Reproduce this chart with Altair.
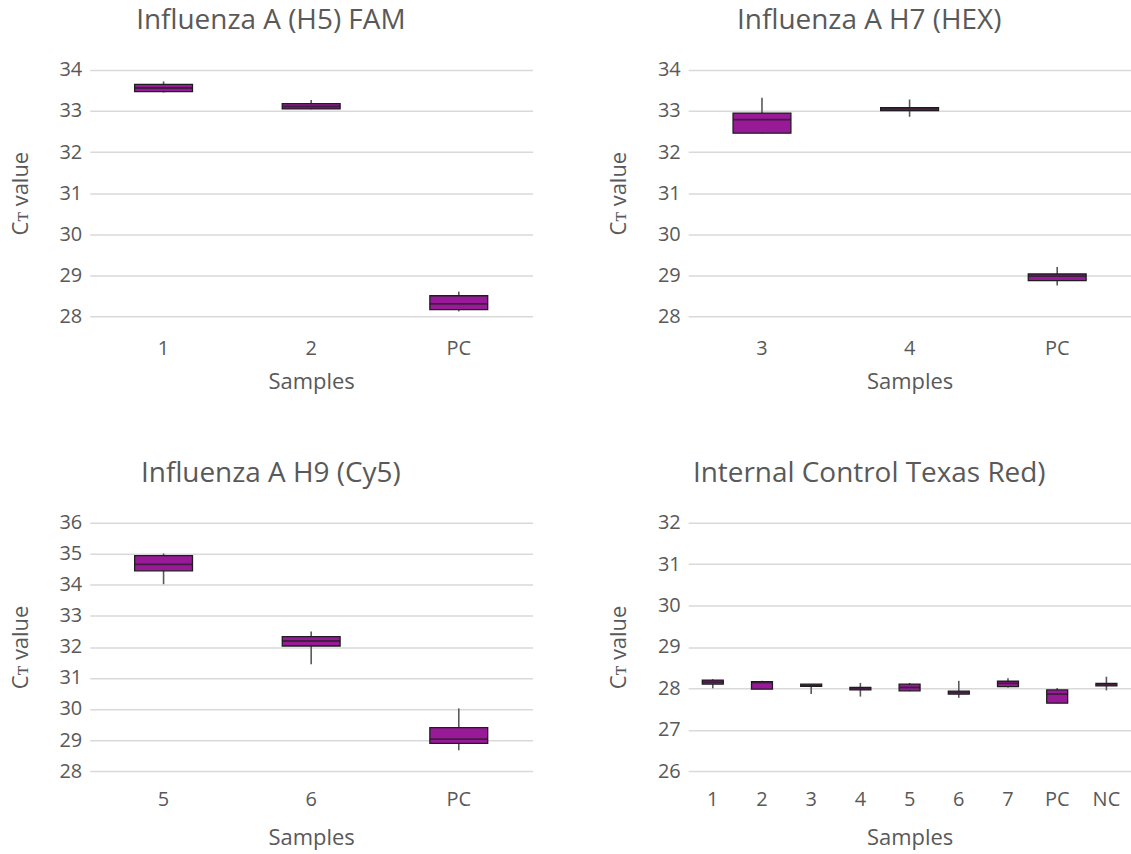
import altair as alt
import pandas as pd

# ---- data ----
p1_samples = ["1", "2", "PC"]
p1_min = [33.45, 33.04, 28.12]
p1_q1 = [33.47, 33.05, 28.16]
p1_med = [33.56, 33.11, 28.30]
p1_q3 = [33.65, 33.18, 28.50]
p1_max = [33.72, 33.27, 28.60]

p2_samples = ["3", "4", "PC"]
p2_min = [32.45, 32.86, 28.75]
p2_q1 = [32.46, 33.01, 28.87]
p2_med = [32.79, 33.05, 28.98]
p2_q3 = [32.95, 33.08, 29.03]
p2_max = [33.32, 33.28, 29.20]

p3_samples = ["5", "6", "PC"]
p3_min = [34.02, 31.44, 28.67]
p3_q1 = [34.45, 32.03, 28.89]
p3_med = [34.66, 32.19, 29.03]
p3_q3 = [34.94, 32.33, 29.40]
p3_max = [35.01, 32.50, 30.02]

p4_samples = ["1", "2", "3", "4", "5", "6", "7", "PC", "NC"]
p4_min = [28.00, 27.98, 27.86, 27.80, 27.93, 27.77, 28.02, 27.64, 27.95]
p4_q1 = [28.10, 27.98, 28.05, 27.96, 27.94, 27.86, 28.04, 27.64, 28.06]
p4_med = [28.15, 28.14, 28.07, 28.00, 28.02, 27.90, 28.12, 27.86, 28.09]
p4_q3 = [28.20, 28.16, 28.10, 28.02, 28.10, 27.93, 28.17, 27.96, 28.12]
p4_max = [28.22, 28.18, 28.10, 28.13, 28.13, 28.18, 28.24, 28.01, 28.28]

FONT = "Open Sans"
TXT = "#595959"
FILL = "#991a99"
YTITLE = "C\u1d1b value"


def panel(title, samples, mn, q1, med, q3, mx, ymin, ymax, box, w=444, h=248,
          lpad=10, tpad=8):
    df = pd.DataFrame({"s": samples, "mn": mn, "q1": q1, "med": med, "q3": q3, "mx": mx})
    x = alt.X("s:N", sort=samples, title="Samples",
              scale=alt.Scale(paddingInner=0, paddingOuter=0),
              axis=alt.Axis(labelAngle=0, domain=False, ticks=False, grid=False,
                            labelPadding=lpad, titlePadding=tpad))
    yscale = alt.Scale(domain=[ymin, ymax], nice=False, zero=False)
    yaxis = alt.Axis(values=list(range(ymin, ymax + 1)), domain=False, ticks=False,
                     grid=True, gridColor="#d9d9d9", gridWidth=1.5, labelOverlap=False,
                     labelPadding=8, titlePadding=27)
    base = alt.Chart(df)
    whisk = base.mark_rule(color=TXT, strokeWidth=1.6).encode(
        x=x, y=alt.Y("mn:Q", scale=yscale, axis=yaxis, title=YTITLE), y2="mx:Q")
    bx = base.mark_bar(size=box, color=FILL, stroke="#1e1e1e", strokeWidth=1.3).encode(
        x=x, y=alt.Y("q1:Q", scale=yscale, axis=yaxis, title=YTITLE), y2="q3:Q")
    md = base.mark_tick(size=box, thickness=1.8, color="#1e1e1e").encode(
        x=x, y=alt.Y("med:Q", scale=yscale, axis=yaxis, title=YTITLE))
    return alt.layer(whisk, bx, md).properties(
        width=w, height=h,
        title=alt.TitleParams(title, fontSize=28, font=FONT, color=TXT,
                              fontWeight="normal", anchor="middle", frame="bounds",
                              offset=25))


c1 = panel("Influenza A (H5) FAM", p1_samples, p1_min, p1_q1, p1_med, p1_q3, p1_max,
           28, 34, 58, h=247, lpad=22, tpad=13)
c2 = panel("Influenza A H7 (HEX)", p2_samples, p2_min, p2_q1, p2_med, p2_q3, p2_max,
           28, 34, 58, h=247, lpad=22, tpad=13)
c3 = panel("Influenza A H9 (Cy5)", p3_samples, p3_min, p3_q1, p3_med, p3_q3, p3_max,
           28, 36, 58, h=249, lpad=19, tpad=18)
c4 = panel("Internal Control Texas Red)", p4_samples, p4_min, p4_q1, p4_med, p4_q3, p4_max,
           26, 32, 21, h=249, lpad=19, tpad=18)

chart = alt.vconcat(
    alt.hconcat(c1, c2, spacing=75),
    alt.hconcat(c3, c4, spacing=75),
    spacing=68,
).properties(
    padding={"left": 9, "top": 6, "right": 0, "bottom": 0}
).configure_axis(
    labelFont=FONT, titleFont=FONT, labelColor=TXT, titleColor=TXT,
    labelFontSize=20, titleFontSize=22, titleFontWeight="normal"
).configure_view(stroke=None)

chart.save("out.html", embed_options={"renderer": "svg", "actions": False})
